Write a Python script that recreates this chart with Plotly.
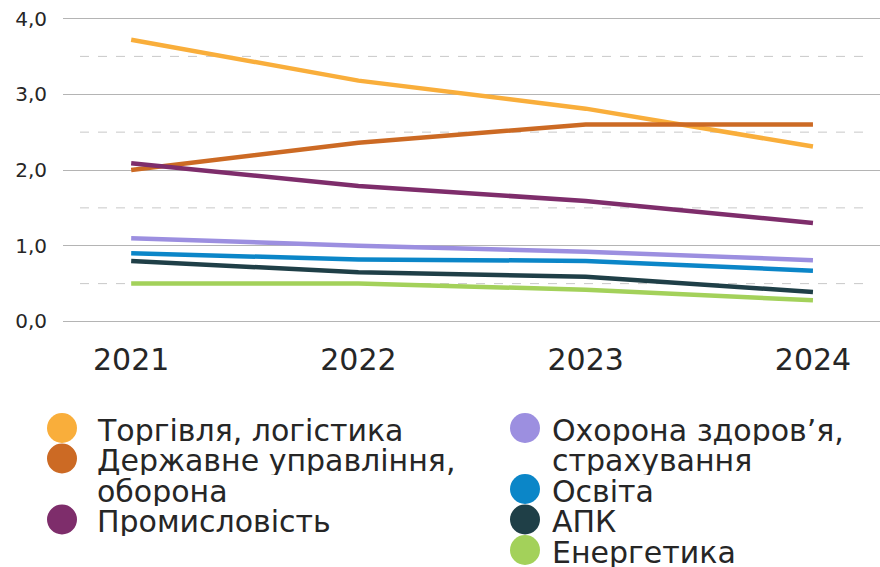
import plotly.graph_objects as go

years = [2021, 2022, 2023, 2024]

trade_logistics = [3.72, 3.18, 2.81, 2.31]
public_admin_defense = [2.00, 2.36, 2.60, 2.60]
industry = [2.09, 1.79, 1.59, 1.30]
healthcare_insurance = [1.10, 1.00, 0.92, 0.81]
education = [0.90, 0.82, 0.80, 0.67]
agro = [0.80, 0.65, 0.59, 0.39]
energy = [0.50, 0.50, 0.42, 0.28]

series_names = [
    "Торгівля, логістика",
    "Державне управління, оборона",
    "Промисловість",
    "Охорона здоров’я, страхування",
    "Освіта",
    "АПК",
    "Енергетика",
]
series_values = [trade_logistics, public_admin_defense, industry,
                 healthcare_insurance, education, agro, energy]
series_colors = ["#F9AE3B", "#CC6A24", "#7E2D6B", "#9C8FE0",
                 "#0B86C8", "#1F3F47", "#A3D15A"]

# legend label lines (as wrapped in the original)
legend_lines = [
    ["Торгівля, логістика"],
    ["Державне управління,", "оборона"],
    ["Промисловість"],
    ["Охорона здоров’я,", "страхування"],
    ["Освіта"],
    ["АПК"],
    ["Енергетика"],
]
legend_column = [0, 0, 0, 1, 1, 1, 1]

y_ticks = [0, 1, 2, 3, 4]
y_minor = [0.5, 1.5, 2.5, 3.5]

FONT = "DejaVu Sans"
TXT = "#262626"
W, H = 880, 567
ML, MR, MT, MB = 63, 0, 17, 244
PW, PH = W - ML - MR, H - MT - MB

fig = go.Figure()
for name, vals, col in zip(series_names, series_values, series_colors):
    fig.add_trace(go.Scatter(x=years, y=vals, mode="lines", name=name,
                             line=dict(color=col, width=4.5),
                             showlegend=False))

shapes = []
for v in y_minor:
    shapes.append(dict(type="line", xref="paper", yref="y",
                       x0=17 / PW, x1=805 / PW, y0=v, y1=v,
                       line=dict(color="#c8c8c8", width=1, dash="dash"),
                       layer="below"))

annotations = []
def px2paper(px, py):
    return (px - ML) / PW, (MT + PH - py) / PH

col_x = [62, 525]
col_text_x = [95, 550]
row_h = 30.5
col_row = [0, 0]
start_y = 428
for lines, col, c in zip(legend_lines, series_colors, legend_column):
    cy = start_y + col_row[c] * row_h
    ax, ay = px2paper(col_x[c], cy)
    shapes.append(dict(type="circle", xref="paper", yref="paper",
                       xsizemode="pixel", ysizemode="pixel",
                       xanchor=ax, yanchor=ay, x0=-15, x1=15, y0=-15, y1=15,
                       fillcolor=col, line=dict(width=0)))
    for i, ln in enumerate(lines):
        tx, ty = px2paper(col_text_x[c], cy + i * row_h + 1.5)
        annotations.append(dict(text=ln, xref="paper", yref="paper",
                                x=tx, y=ty, xanchor="left", yanchor="middle",
                                height=30, valign="middle",
                                showarrow=False,
                                font=dict(family=FONT, size=30, color=TXT)))
    col_row[c] += len(lines)

fig.update_layout(
    width=W, height=H,
    margin=dict(l=ML, r=MR, t=MT, b=MB),
    paper_bgcolor="white", plot_bgcolor="white",
    separators=", ",
    shapes=shapes, annotations=annotations,
    xaxis=dict(range=[2020.70, 2024.295], tickvals=years,
               ticktext=[str(y) for y in years],
               showgrid=False, zeroline=False, showline=False,
               tickfont=dict(family=FONT, size=30, color=TXT),
               ticklabelstandoff=16),
    yaxis=dict(range=[-0.02, 4.02], tickvals=y_ticks, tickformat=".1f",
               showgrid=True, gridcolor="#b4b4b4", gridwidth=1,
               zeroline=False, showline=False,
               tickfont=dict(family=FONT, size=20, color=TXT),
               ticklabelstandoff=15),
    showlegend=False,
)

fig.write_html("out.html", config={"displayModeBar": False},
               post_script="document.body.style.margin='0';")
